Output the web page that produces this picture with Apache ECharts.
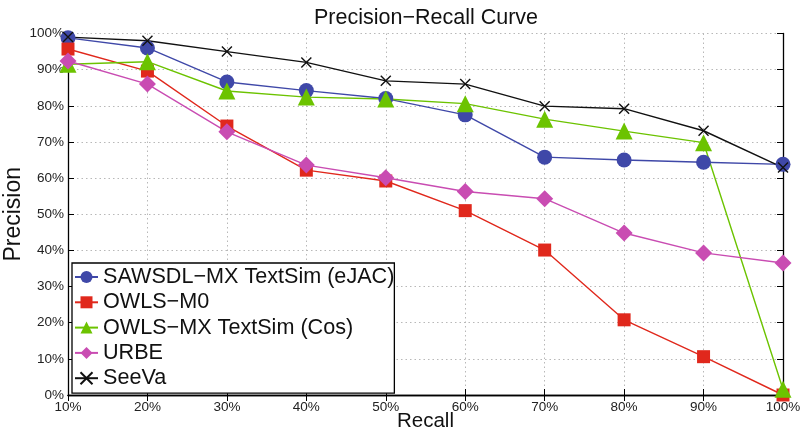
<!DOCTYPE html>
<html>
<head>
<meta charset="utf-8">
<script src="https://cdn.jsdelivr.net/npm/echarts@6/dist/echarts.min.js"></script>
<style>
  html, body { margin: 0; padding: 0; background: #fff; }
  #chart { width: 803px; height: 435px; }
</style>
</head>
<body>
<div id="chart"></div>
<script>
// Recall levels (x axis, %)
const recall = [10, 20, 30, 40, 50, 60, 70, 80, 90, 100];

// Precision values (%) per matcher
const sawsdlEjac = [98.8, 96.0, 86.6, 84.2, 82.0, 77.5, 65.8, 65.0, 64.4, 63.8];
const owlsM0     = [95.7, 89.6, 74.4, 62.2, 59.2, 51.0, 40.1, 20.8, 10.6, 0.0];
const owlsMxCos  = [91.5, 92.2, 84.1, 82.4, 81.9, 80.6, 76.3, 73.0, 69.8, 1.6];
const urbe       = [92.4, 86.0, 72.8, 63.6, 60.1, 56.3, 54.3, 44.8, 39.3, 36.5];
const seeva      = [99.0, 98.0, 95.0, 92.0, 86.9, 86.0, 79.9, 79.2, 73.1, 62.9];

const seriesNames = [
  'SAWSDL\u2212MX TextSim (eJAC)',
  'OWLS\u2212M0',
  'OWLS\u2212MX TextSim (Cos)',
  'URBE',
  'SeeVa'
];

const FONT = '"Liberation Sans", Arial, Helvetica, sans-serif';
const crossPath = 'path://M0,0L10,10M10,0L0,10';

function pairs(ys) { return recall.map((x, i) => [x, ys[i]]); }

function lineSeries(name, ys, color, symbol, size, extra) {
  return Object.assign({
    name: name,
    type: 'line',
    data: pairs(ys),
    symbol: symbol,
    symbolSize: size,
    showAllSymbol: true,
    lineStyle: { color: color, width: 1.4 },
    itemStyle: { color: color },
    emphasis: { disabled: true },
    animation: false
  }, extra || {});
}

const chart = echarts.init(document.getElementById('chart'), null, { renderer: 'canvas' });

const axisLine = { show: true, lineStyle: { color: '#000', width: 1.3 } };
const gridDots = { show: true, lineStyle: { color: '#b8b8b8', type: [1.5, 3], width: 1 } };
const innerTicks = { show: true, inside: true, length: 6, lineStyle: { color: '#000' } };

chart.setOption({
  backgroundColor: '#fff',
  textStyle: { fontFamily: FONT },
  title: {
    text: 'Precision\u2212Recall Curve',
    left: 421, top: 2, textAlign: 'center',
    textStyle: { fontFamily: FONT, fontSize: 21.5, fontWeight: 'normal', color: '#111' }
  },
  grid: { left: 68, right: 20, top: 33.5, bottom: 40, containLabel: false, outerBoundsMode: 'none' },
  legend: {
    orient: 'vertical',
    left: 72, top: 263,
    backgroundColor: '#fff',
    borderColor: '#000',
    borderWidth: 1.3,
    padding: [3, 0, 4, 2],
    itemWidth: 23,
    itemHeight: 15,
    itemGap: 3.3,
    textStyle: { fontFamily: FONT, fontSize: 21.6, color: '#111', lineHeight: 22 },
    data: seriesNames
  },
  xAxis: [
    {
      type: 'value', min: 10, max: 100, interval: 10,
      name: 'Recall', nameLocation: 'middle', nameGap: 16, nameMoveOverlap: false,
      nameTextStyle: { fontFamily: FONT, fontSize: 20.5, color: '#111' },
      axisLine: axisLine,
      axisTick: innerTicks,
      axisLabel: { formatter: '{value}%', fontFamily: FONT, fontSize: 13.5, color: '#222', margin: 5 },
      splitLine: gridDots
    },
    {
      type: 'value', position: 'top', min: 10, max: 100, interval: 10,
      axisLine: axisLine,
      axisTick: innerTicks,
      axisLabel: { show: false },
      splitLine: { show: false }
    }
  ],
  yAxis: [
    {
      type: 'value', min: 0, max: 100, interval: 10,
      name: 'Precision', nameLocation: 'middle', nameGap: 43, nameRotate: 90, nameMoveOverlap: false,
      nameTextStyle: { fontFamily: FONT, fontSize: 23, color: '#111' },
      axisLine: axisLine,
      axisTick: innerTicks,
      axisLabel: { formatter: '{value}%', fontFamily: FONT, fontSize: 13.5, color: '#222', margin: 4 },
      splitLine: gridDots
    },
    {
      type: 'value', position: 'right', min: 0, max: 100, interval: 10,
      axisLine: axisLine,
      axisTick: innerTicks,
      axisLabel: { show: false },
      splitLine: { show: false }
    }
  ],
  series: [
    lineSeries(seriesNames[0], sawsdlEjac, '#3f48a8', 'circle', 15),
    lineSeries(seriesNames[1], owlsM0, '#e0281c', 'rect', 13),
    lineSeries(seriesNames[2], owlsMxCos, '#6cc300', 'triangle', 17),
    lineSeries(seriesNames[3], urbe, '#c94cb2', 'diamond', 17),
    lineSeries(seriesNames[4], seeva, '#111111', crossPath, 10, {
      itemStyle: { color: 'none', borderColor: '#111', borderWidth: 1.4 },
      lineStyle: { color: '#111', width: 1.4 }
    })
  ]
});
</script>
</body>
</html>
